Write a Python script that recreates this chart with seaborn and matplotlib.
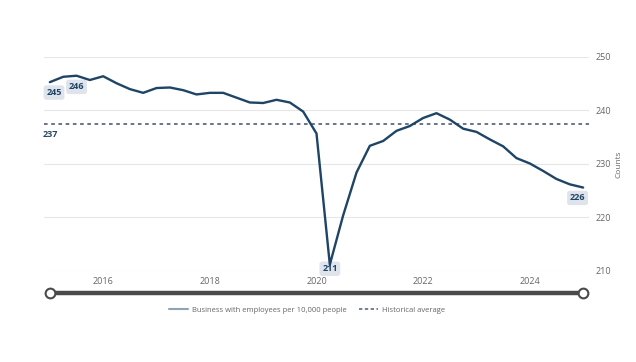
import matplotlib
matplotlib.use("Agg")
import matplotlib.pyplot as plt
from matplotlib.lines import Line2D
import numpy as np
import pandas as pd
import seaborn as sns

# quarterly series, 2015 Q1 .. 2025 Q1
years = np.arange(41) / 4 + 2015
values = [245.3, 246.3, 246.5, 245.7, 246.4, 245.1, 244.0, 243.3, 244.2, 244.3,
          243.8, 243.0, 243.3, 243.3, 242.4, 241.5, 241.4, 242.0, 241.5, 239.8,
          235.7, 211.2, 220.4, 228.4, 233.4, 234.3, 236.2, 237.1, 238.6, 239.5,
          238.3, 236.6, 236.0, 234.6, 233.3, 231.1, 230.1, 228.7, 227.2, 226.2,
          225.6]
hist_avg = 237.4
xticks = [2016, 2018, 2020, 2022, 2024]
yticks = [210, 220, 230, 240, 250]
# (index, label, x offset pt, y offset pt)
callouts = [(0, "245", 3, -7.5), (2, "246", 0, -8), (21, "211", 0, -3), (40, "226", -4, -7.5)]

series_name = "Business with employees per 10,000 people"
line_col = "#1e4466"
avg_col = "#5b6985"
grey = "#666666"

df = pd.DataFrame({"year": years, "value": values})

sns.set_theme(style="white")
plt.rcParams["font.family"] = ["Open Sans", "DejaVu Sans"]

fig = plt.figure(figsize=(6.36, 3.62), dpi=100)
ax = fig.add_axes([44 / 636, 1 - 271 / 362, 545 / 636, 214 / 362])

sns.lineplot(data=df, x="year", y="value", ax=ax, color=line_col, linewidth=1.7,
             clip_on=False, zorder=4)
ax.axhline(hist_avg, color=avg_col, linewidth=1.3, linestyle=(0, (2, 2)), zorder=2)

ax.set_xlim(2014.89, 2025.11)
ax.set_ylim(210, 250)
ax.set_xticks(xticks)
ax.set_yticks(yticks)
ax.yaxis.tick_right()
ax.yaxis.set_label_position("right")
ax.tick_params(axis="both", length=0, labelsize=6.5, labelcolor=grey)
ax.tick_params(axis="y", pad=5)
ax.tick_params(axis="x", pad=4)
ax.set_xlabel("")
ax.set_ylabel("Counts", fontsize=6, color=grey, labelpad=3)
ax.grid(axis="y", color="#e6e6e6", linewidth=0.8)
ax.grid(axis="x", visible=False)
for s in ax.spines.values():
    s.set_visible(False)

# value callouts
for i, txt, dx, dy in callouts:
    ax.annotate(txt, (years[i], values[i]), xytext=(dx, dy), textcoords="offset points",
                ha="center", va="center", fontsize=6.5, fontweight="bold", color=line_col,
                bbox=dict(boxstyle="round,pad=0.3", fc="#dfe3eb", ec="none"), zorder=3)

ax.annotate(str(int(hist_avg)), (years[0], hist_avg), xytext=(0, -7), textcoords="offset points",
            ha="center", va="center", fontsize=6.5, fontweight="bold", color="#2b4561")

# range slider under the chart
sax = fig.add_axes([44 / 636, 1 - 300 / 362, 545 / 636, 14 / 362], sharex=ax)
sax.plot([years[0], years[-1]], [0, 0], color="#4a4a4a", linewidth=3.2, solid_capstyle="butt")
sax.plot([years[0], years[-1]], [0, 0], linestyle="none", marker="o", markersize=7,
         markerfacecolor="white", markeredgecolor="#4a4a4a", markeredgewidth=1.5, clip_on=False)
sax.set_ylim(-1, 1)
sax.axis("off")

handles = [Line2D([], [], color="#8fa3b5", linewidth=1.5),
           Line2D([], [], color=avg_col, linewidth=1.2, linestyle=(0, (2, 1.5)))]
leg = fig.legend(handles, [series_name, "Historical average"], loc="center",
                 bbox_to_anchor=(307 / 636, 1 - 310 / 362), ncol=2, frameon=False,
                 fontsize=5.5, handlelength=2.5, columnspacing=1.5, handletextpad=0.6)
for t in leg.get_texts():
    t.set_color(grey)

fig.savefig("out.png", dpi=100)
